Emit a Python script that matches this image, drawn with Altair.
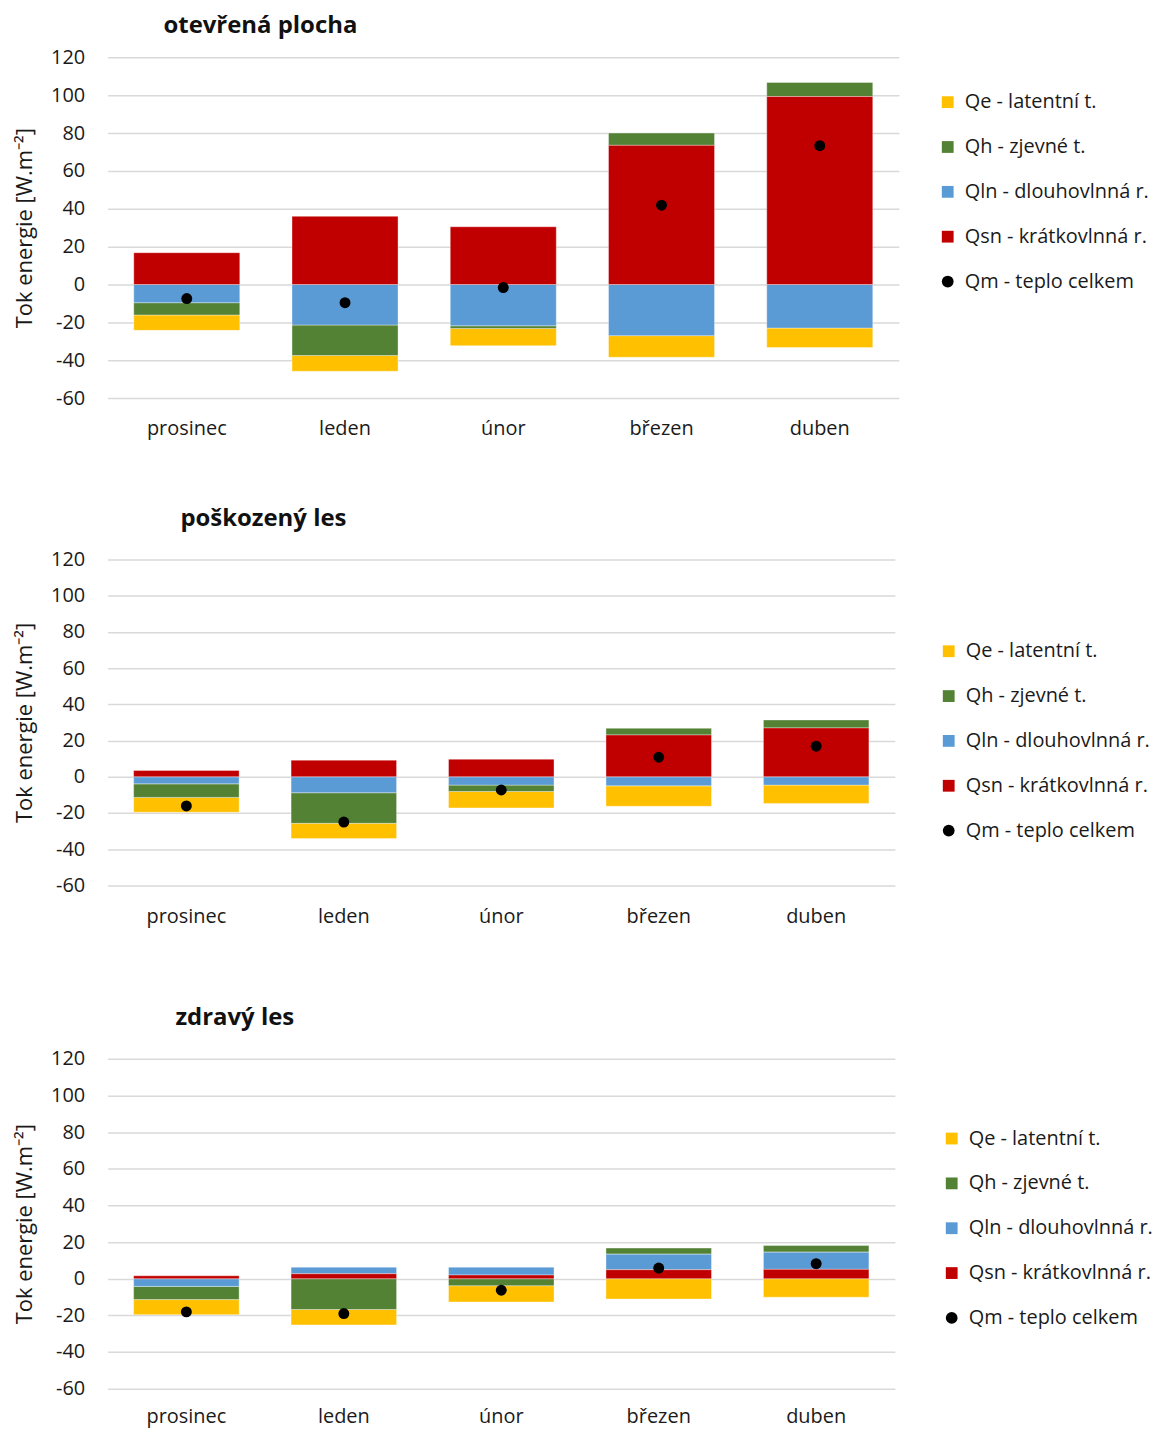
import altair as alt
import pandas as pd

months = ["prosinec", "leden", "únor", "březen", "duben"]
series_names = ["Qe - latentní t.", "Qh - zjevné t.", "Qln - dlouhovlnná r.", "Qsn - krátkovlnná r."]
qm_name = "Qm - teplo celkem"
legend_domain = series_names + [qm_name]
legend_colors = ["#FFC000", "#548235", "#5B9BD5", "#C00000", "#000000"]
legend_shapes = ["square", "square", "square", "square", "circle"]
stack_rank = {"Qsn - krátkovlnná r.": 0, "Qln - dlouhovlnná r.": 1, "Qh - zjevné t.": 2, "Qe - latentní t.": 3}
y_ticks = [-60, -40, -20, 0, 20, 40, 60, 80, 100, 120]

# otevřená plocha
p1_qe = [-8.1, -8.3, -9.1, -11.4, -10.3]
p1_qh = [-6.5, -16.1, -1.4, 6.5, 7.4]
p1_qln = [-9.6, -21.4, -21.8, -27.0, -23.0]
p1_qsn = [16.8, 36.0, 30.5, 73.5, 99.3]
p1_qm = [-7.4, -9.6, -1.6, 41.9, 73.3]

# poškozený les
p2_qe = [-8.2, -8.4, -9.1, -11.3, -10.1]
p2_qh = [-7.5, -16.9, -3.5, 3.7, 4.4]
p2_qln = [-3.9, -8.8, -4.6, -5.0, -4.6]
p2_qsn = [3.5, 9.2, 9.7, 23.1, 27.0]
p2_qm = [-16.1, -25.0, -7.3, 10.8, 16.9]

# zdravý les
p3_qe = [-8.2, -8.4, -8.9, -11.1, -10.1]
p3_qh = [-7.2, -16.8, -3.8, 3.3, 3.6]
p3_qln = [-4.2, 3.6, 4.3, 8.5, 9.4]
p3_qsn = [1.6, 2.7, 2.0, 4.9, 5.1]
p3_qm = [-18.1, -19.0, -6.3, 5.8, 8.2]

FONT = "Open Sans"
TXT = "#1a1a1a"


def panel(title, qe, qh, qln, qsn, qm, width, height, title_dx, title_offset,
          legend_x, legend_y, extra_bottom=False, x_label_pad=21):
    rows = []
    for name, vals in zip(series_names, [qe, qh, qln, qsn]):
        for m, v in zip(months, vals):
            rows.append({"month": m, "series": name, "value": v, "rank": stack_rank[name]})
    bars_df = pd.DataFrame(rows)
    pts_df = pd.DataFrame({"month": months, "series": [qm_name] * len(months), "value": qm})

    x_axis = alt.Axis(
        title=" " if extra_bottom else None,
        titleFontSize=10, titlePadding=2,
        labelAngle=0, labelFontSize=20, labelPadding=x_label_pad, labelColor=TXT,
        domain=False, ticks=False, grid=False,
    )
    x = alt.X("month:N", sort=months,
              scale=alt.Scale(paddingInner=0.33, paddingOuter=0.165),
              axis=x_axis)
    y_axis = alt.Axis(
        title="Tok energie [W.m⁻²]", titleFontSize=22, titleFontWeight="normal",
        titleColor=TXT, titlePadding=14,
        values=y_ticks, labelOverlap=False, labelExpr="toString(datum.value)",
        labelFontSize=20, labelPadding=23, labelColor=TXT,
        domain=False, ticks=False, grid=True, gridColor="#d9d9d9", gridWidth=1.5,
    )
    y_scale = alt.Scale(domain=[-60, 120], nice=False, zero=False)
    legend = alt.Legend(
        title=None, orient="none", legendX=legend_x, legendY=legend_y,
        labelFontSize=20, labelColor=TXT, labelFont=FONT, labelLimit=400,
        symbolSize=140, symbolStrokeWidth=0, rowPadding=25, labelOffset=7,
    )
    color = alt.Color("series:N", scale=alt.Scale(domain=legend_domain, range=legend_colors),
                      legend=legend)

    bars = alt.Chart(bars_df).mark_bar(stroke="white", strokeWidth=0.6, strokeOpacity=0.6).encode(
        x=x,
        y=alt.Y("value:Q", scale=y_scale, stack="zero", axis=y_axis),
        color=color,
        order=alt.Order("rank:Q", sort="ascending"),
    )
    pts = alt.Chart(pts_df).mark_point(filled=True, size=120, opacity=1).encode(
        x=x,
        y=alt.Y("value:Q", scale=y_scale, stack=None, axis=y_axis),
        color=color,
        shape=alt.Shape("series:N", scale=alt.Scale(domain=legend_domain, range=legend_shapes),
                        legend=legend),
    )
    return alt.layer(bars, pts).properties(
        width=width, height=height,
        title=alt.Title(title, anchor="start", frame="group", dx=title_dx, offset=title_offset,
                        fontSize=24, fontWeight="bold", font=FONT, color="#111111"),
    )


c1 = panel("otevřená plocha", p1_qe, p1_qh, p1_qln, p1_qsn, p1_qm, 794, 342, 56, 9, 833, 35)
c2 = panel("poškozený les", p2_qe, p2_qh, p2_qln, p2_qsn, p2_qm, 790, 327, 73, 19, 834, 82,
           extra_bottom=True)
c3 = panel("zdravý les", p3_qe, p3_qh, p3_qln, p3_qsn, p3_qm, 790, 331, 68, 19, 837, 70,
           x_label_pad=18)

chart = alt.vconcat(c1, c2, c3, spacing=68).resolve_legend(
    color="independent", shape="independent"
).properties(
    padding={"left": 5, "top": 4, "right": 0, "bottom": 0}
).configure(font=FONT).configure_view(stroke=None).configure_axis(labelFont=FONT, titleFont=FONT)

chart.save("out.html", embed_options={"renderer": "svg", "actions": False})
